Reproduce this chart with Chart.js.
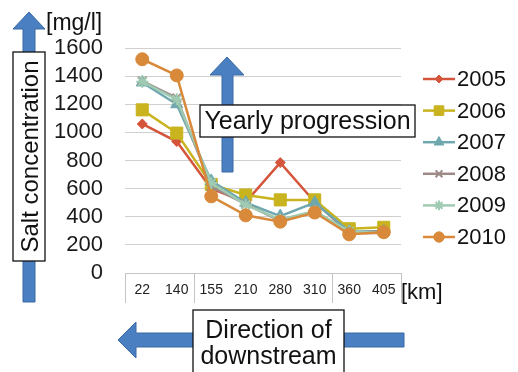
<!DOCTYPE html>
<html lang="en">
<head>
<meta charset="UTF-8">
<title>Salt concentration</title>
<style>
  html, body { margin: 0; padding: 0; background: #fff; }
  #wrap { width: 518px; height: 372px; }
</style>
</head>
<body>
<div id="wrap"><canvas id="salt-chart" width="518" height="372"></canvas></div>
<script src="https://cdn.jsdelivr.net/npm/chart.js@4.4.1/dist/chart.umd.min.js"></script>
<script>
// distance from river mouth [km]
var distances = ['22', '140', '155', '210', '280', '310', '360', '405'];
var yTicks = [0, 200, 400, 600, 800, 1000, 1200, 1400, 1600];

// salt concentration [mg/l]
var y2005 = [1060, 935, 600, 505, 785, 505, 285, 300];
var y2006 = [1160, 995, 630, 555, 520, 520, 315, 325];
var y2007 = [1355, 1200, 655, 500, 405, 500, 295, 295];
var y2008 = [1365, 1245, 615, 490, 370, 440, 285, 285];
var y2009 = [1360, 1235, 640, 485, 380, 440, 295, 285];
var y2010 = [1520, 1405, 545, 410, 365, 430, 275, 290];

var years = ['2005', '2006', '2007', '2008', '2009', '2010'];
var series = [y2005, y2006, y2007, y2008, y2009, y2010];
var colors = ['#D4553B', '#C9B31F', '#6FA7AE', '#9D8A86', '#9FCBB2', '#D8893A'];
var markers = ['rectRot', 'rect', 'triangle', 'crossRot', 'star', 'circle'];
var markerSizes = [5, 8.5, 7, 6, 6, 6.5];

var FONT = "'Liberation Sans', Arial, sans-serif";
var ARROW = '#4A7FC1';

var datasets = series.map(function (vals, i) {
  return {
    label: years[i],
    data: vals,
    borderColor: colors[i],
    backgroundColor: colors[i],
    borderWidth: 2.5,
    pointStyle: markers[i],
    pointRadius: markerSizes[i],
    pointBorderWidth: markers[i] == 'crossRot' || markers[i] == 'star' ? 2 : 1,
    pointBackgroundColor: colors[i],
    pointBorderColor: colors[i],
    tension: 0,
    order: series.length - i
  };
});

function box(ctx, x, y, w, h) {
  ctx.fillStyle = '#fff';
  ctx.fillRect(x, y, w, h);
  ctx.strokeStyle = '#111';
  ctx.lineWidth = 1.3;
  ctx.strokeRect(x, y, w, h);
}

function poly(ctx, pts) {
  ctx.beginPath();
  ctx.moveTo(pts[0][0], pts[0][1]);
  for (var i = 1; i < pts.length; i++) ctx.lineTo(pts[i][0], pts[i][1]);
  ctx.closePath();
  ctx.fillStyle = ARROW;
  ctx.fill();
  ctx.strokeStyle = '#3A69A3';
  ctx.lineWidth = 1;
  ctx.stroke();
}

var extras = {
  id: 'extras',
  afterDraw: function (chart) {
    var ctx = chart.ctx;
    ctx.save();

    // legend
    ctx.font = '22px ' + FONT;
    ctx.textBaseline = 'middle';
    ctx.textAlign = 'left';
    for (var i = 0; i < years.length; i++) {
      var ly = 79 + i * 31.6;
      ctx.strokeStyle = colors[i];
      ctx.fillStyle = colors[i];
      ctx.lineWidth = 2.5;
      ctx.beginPath();
      ctx.moveTo(423, ly);
      ctx.lineTo(455, ly);
      ctx.stroke();
      ctx.lineWidth = markers[i] == 'crossRot' || markers[i] == 'star' ? 2 : 1;
      Chart.helpers.drawPoint(ctx, {
        pointStyle: markers[i], radius: markerSizes[i] * 0.8, rotation: 0,
        borderWidth: ctx.lineWidth
      }, 439, ly);
      ctx.fillStyle = '#111';
      ctx.fillText(years[i], 457, ly + 1);
    }

    // unit labels
    ctx.fillStyle = '#111';
    ctx.font = '23px ' + FONT;
    ctx.textBaseline = 'alphabetic';
    ctx.fillText('[mg/l]', 46, 30);
    ctx.font = '22px ' + FONT;
    ctx.fillText('[km]', 401, 299);

    // left up arrow + rotated label
    poly(ctx, [[23, 302], [23, 29], [13, 29], [29, 12], [45, 29], [35, 29], [35, 302]]);
    box(ctx, 13, 52, 32, 209);
    ctx.save();
    ctx.translate(30, 156.5);
    ctx.rotate(-Math.PI / 2);
    ctx.font = '24px ' + FONT;
    ctx.textAlign = 'center';
    ctx.textBaseline = 'middle';
    ctx.fillStyle = '#111';
    ctx.fillText('Salt concentration', 0, 1);
    ctx.restore();

    // yearly progression arrow + box
    poly(ctx, [[222, 172], [222, 75], [210, 75], [227, 57], [244, 75], [233, 75], [233, 172]]);
    box(ctx, 200, 105, 215, 32);
    ctx.font = '25px ' + FONT;
    ctx.textAlign = 'center';
    ctx.textBaseline = 'middle';
    ctx.fillStyle = '#111';
    ctx.fillText('Yearly progression', 307.5, 122);

    // downstream arrow + box
    poly(ctx, [[404, 333], [136, 333], [136, 322], [118, 340], [136, 358], [136, 347], [404, 347]]);
    box(ctx, 193, 310, 151, 70);
    ctx.font = '25px ' + FONT;
    ctx.textAlign = 'center';
    ctx.textBaseline = 'alphabetic';
    ctx.fillStyle = '#111';
    ctx.fillText('Direction of', 268.5, 338);
    ctx.fillText('downstream', 268.5, 364);

    ctx.restore();
  }
};

new Chart(document.getElementById('salt-chart'), {
  type: 'line',
  data: { labels: distances, datasets: datasets },
  plugins: [extras],
  options: {
    responsive: false,
    animation: false,
    layout: { padding: { left: 0, right: 117, top: 48, bottom: 0 } },
    plugins: {
      legend: { display: false },
      tooltip: { enabled: false }
    },
    scales: {
      x: {
        offset: true,
        afterFit: function (s) { s.height = 99; },
        grid: {
          offset: true,
          drawOnChartArea: false,
          tickLength: 30,
          lineWidth: 1,
          color: function (c) {
            return (c.index === undefined || c.index === 0 || c.index === 2 || c.index === 6) ? '#C4C4C4' : 'rgba(0,0,0,0)';
          }
        },
        border: { display: true, color: '#C4C4C4' },
        ticks: {
          padding: -21,
          maxRotation: 0,
          autoSkip: false,
          color: '#222',
          font: { family: FONT, size: 14 }
        }
      },
      y: {
        min: yTicks[0],
        max: yTicks[yTicks.length - 1],
        afterFit: function (s) { s.width = 125; },
        afterBuildTicks: function (s) { s.ticks = yTicks.map(function (v) { return { value: v }; }); },
        grid: { color: '#CFCFCF', lineWidth: 1, drawTicks: false },
        border: { display: false },
        ticks: {
          autoSkip: false,
          padding: 22,
          color: '#1a1a1a',
          font: { family: FONT, size: 22 },
          callback: function (v) { return String(v); }
        }
      }
    }
  }
});
</script>
</body>
</html>
